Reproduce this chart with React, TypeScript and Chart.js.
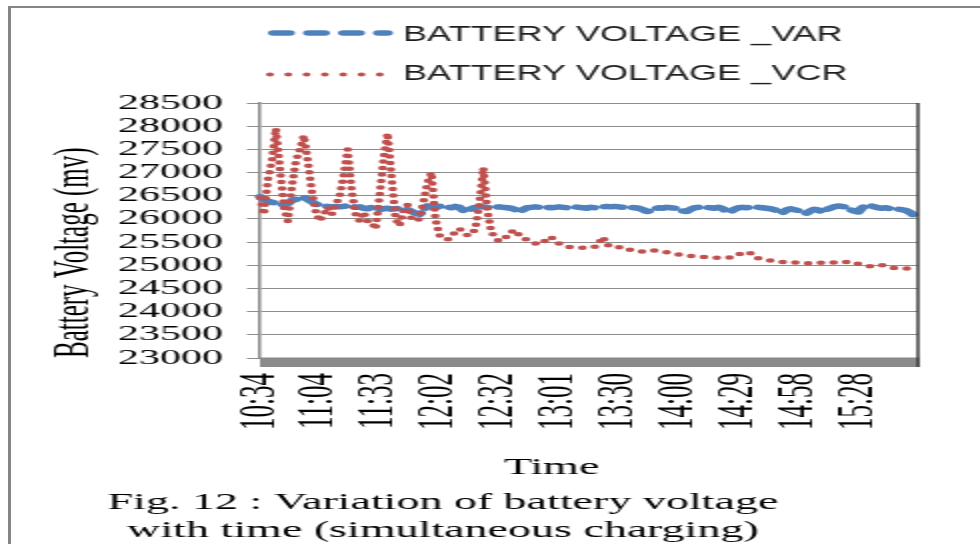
import React, { useEffect, useRef } from "react";
import { Chart, registerables } from "chart.js";

Chart.register(...registerables);

// ---------- data ----------
const tickLabels = ["10:34", "11:04", "11:33", "12:02", "12:32", "13:01", "13:30", "14:00", "14:29", "14:58", "15:28"];
const POINTS_PER_TICK = 15;

const varValues = [
  26480, 26420, 26380, 26360, 26330, 26320, 26300, 26330, 26400, 26420,
  26440, 26470, 26420, 26370, 26320, 26300, 26280, 26270, 26260, 26270,
  26260, 26270, 26290, 26280, 26250, 26260, 26230, 26220, 26250, 26240,
  26200, 26220, 26230, 26210, 26220, 26230, 26210, 26200, 26160, 26120,
  26100, 26200, 26280, 26260, 26250, 26270, 26280, 26260, 26240, 26270,
  26250, 26180, 26160, 26220, 26250, 26260,
  26260, 26250, 26240, 26250, 26260, 26250, 26240, 26230, 26200, 26150,
  26200, 26240, 26250, 26260, 26250, 26260, 26250, 26240, 26250, 26260,
  26250, 26240, 26250, 26260, 26250, 26240, 26230, 26250, 26240, 26250,
  26260, 26270, 26260, 26270, 26260, 26250, 26260, 26250, 26240, 26230,
  26200, 26160, 26170, 26220, 26240, 26230, 26250, 26240, 26230, 26200,
  26170, 26160, 26210, 26240, 26250, 26260, 26250, 26240, 26230, 26250,
  26220, 26160, 26150, 26210, 26240, 26250, 26240, 26250, 26260, 26250,
  26240, 26230, 26220, 26200, 26150, 26130, 26190, 26220, 26200, 26180,
  26150, 26120, 26170, 26210, 26190, 26150, 26200, 26230, 26260, 26280,
  26270, 26250, 26200, 26170, 26150, 26240, 26290, 26290, 26260, 26240,
  26230, 26240, 26220, 26230, 26210, 26200, 26180, 26140, 26080, 26020,
];

const vcrValues = [
  26450, 26100, 26850, 27250, 27950, 27100, 26250, 25950, 26700, 27250,
  27500, 27800, 27250, 26600, 26150, 25950, 26100, 26250, 26100, 26300,
  26500, 26950, 27500, 26600, 26100, 25950, 26150, 25950, 25950, 25780,
  26500, 27300, 27850, 26900, 26000, 25850, 26200, 26300, 26000, 25950,
  26000, 26370, 26780, 27000, 26000, 25650, 25580, 25550, 25620, 25720,
  25790, 25720, 25650, 25650, 25790, 26300, 27100, 26200,
  25720, 25590, 25520, 25580, 25620, 25720, 25760, 25650, 25580, 25550,
  25500, 25470, 25450, 25480, 25580, 25610, 25520, 25470, 25440, 25400,
  25390, 25380, 25380, 25380, 25370, 25380, 25400, 25480, 25610, 25450,
  25390, 25380, 25390, 25400, 25360, 25330, 25330, 25320, 25290, 25290,
  25300, 25320, 25310, 25300, 25280, 25260, 25240, 25230, 25230, 25220,
  25200, 25190, 25180, 25180, 25170, 25170, 25160, 25160, 25170, 25160,
  25170, 25180, 25230, 25270, 25290, 25260, 25180, 25150, 25130, 25120,
  25100, 25080, 25070, 25070, 25060, 25070, 25060, 25050, 25050, 25040,
  25050, 25060, 25060, 25050, 25060, 25050, 25060, 25070, 25080, 25070,
  25080, 25060, 25030, 25010, 24990, 24980, 24970, 24980, 25000, 24990,
  24960, 24940, 24940, 24940, 24930, 24920, 24900, 24890,
];

const categories = varValues.map((_, i) => i);
const seriesNames = ["BATTERY VOLTAGE _VAR", "BATTERY VOLTAGE _VCR"];
const seriesColors = ["#4F81BD", "#C0504D"];
const yTitle = "Battery Voltage (mv)";
const xTitle = "Time";
const captionLines = ["Fig. 12 : Variation of battery voltage", "with time (simultaneous charging)"];

// the reference picture is stretched horizontally
const STRETCH = 2;
const CANVAS_W = 980 / STRETCH;

const decorPlugin = {
  id: "decor",
  afterDraw(chart: any) {
    const { ctx, chartArea: a } = chart;
    ctx.save();
    // grey floor under the plot
    ctx.fillStyle = "#8a8a8a";
    ctx.fillRect(a.left, a.bottom - 0.5, a.right - a.left + 0.75, 9.5);
    // right border of plot
    ctx.strokeStyle = "#3c3c3c";
    ctx.lineWidth = 1.5;
    ctx.beginPath();
    ctx.moveTo(a.right, a.top);
    ctx.lineTo(a.right, a.bottom + 9);
    ctx.stroke();

    // legend
    const ds = chart.data.datasets;
    ctx.lineCap = "round";
    ctx.strokeStyle = ds[0].borderColor;
    ctx.lineWidth = 5.5;
    ctx.setLineDash([8, 9.5]);
    ctx.beginPath();
    ctx.moveTo(136.75, 33);
    ctx.lineTo(193.75, 33);
    ctx.stroke();
    ctx.strokeStyle = ds[1].borderColor;
    ctx.lineWidth = 4;
    ctx.setLineDash([0, 9.15]);
    ctx.beginPath();
    ctx.moveTo(135, 74.5);
    ctx.lineTo(190.5, 74.5);
    ctx.stroke();
    ctx.setLineDash([]);

    ctx.fillStyle = "#1e1e1e";
    ctx.font = "22px 'Liberation Sans'";
    ctx.textAlign = "left";
    ctx.textBaseline = "alphabetic";
    const legendY = [41, 80];
    ds.forEach((d: any, i: number) => {
      ctx.save();
      ctx.translate(201.5, legendY[i]);
      ctx.scale(0.82, 1);
      ctx.fillText(d.label, 0, 0);
      ctx.restore();
    });

    // x axis title and caption
    ctx.fillStyle = "#000";
    ctx.font = "23px 'Liberation Serif'";
    ctx.textAlign = "center";
    ctx.fillText(xTitle, 275.75, 474);
    ctx.fillText(captionLines[0], 221.5, 509);
    ctx.fillText(captionLines[1], 221.5, 537);
    ctx.restore();
  },
};

export default function App() {
  const canvasRef = useRef<HTMLCanvasElement | null>(null);

  useEffect(() => {
    if (!canvasRef.current) return;
    const chart = new Chart(canvasRef.current, {
      type: "line",
      data: {
        labels: categories,
        datasets: [
          {
            label: seriesNames[0],
            data: varValues,
            borderColor: seriesColors[0],
            backgroundColor: seriesColors[0],
            borderWidth: 5.5,
            borderDash: [9, 5.5],
            borderCapStyle: "round",
            borderJoinStyle: "round",
            pointRadius: 0,
            tension: 0,
            fill: false,
            order: 1,
          },
          {
            label: seriesNames[1],
            data: vcrValues,
            borderColor: seriesColors[1],
            backgroundColor: seriesColors[1],
            borderWidth: 4.5,
            borderDash: [0, 6.5],
            borderCapStyle: "round",
            borderJoinStyle: "round",
            pointRadius: 0,
            tension: 0,
            fill: false,
            order: 0,
          },
        ],
      },
      options: {
        animation: false,
        responsive: true,
        maintainAspectRatio: false,
        devicePixelRatio: 1,
        events: [],
        layout: { padding: { top: 103, left: 20, right: 31, bottom: 106 } },
        plugins: {
          legend: { display: false },
          tooltip: { enabled: false },
          title: { display: false },
        },
        scales: {
          x: {
            type: "category",
            offset: false,
            grid: { display: false, drawTicks: false },
            border: { display: false },
            ticks: {
              autoSkip: false,
              minRotation: 90,
              maxRotation: 90,
              padding: 15,
              color: "#000",
              font: { family: "'Liberation Serif'", size: 25 },
              callback: (_v: any, i: number) =>
                i % POINTS_PER_TICK === 0 ? tickLabels[i / POINTS_PER_TICK] ?? "" : "",
            },
            afterFit: (s: any) => {
              s.height = 80;
              s.paddingLeft = 0;
              s.paddingRight = 0;
            },
          },
          y: {
            min: 23000,
            max: 28500,
            ticks: {
              stepSize: 500,
              maxTicksLimit: 20,
              autoSkip: false,
              padding: 12,
              color: "#000",
              font: { family: "'Liberation Serif'", size: 21 },
              callback: (v: any) => String(v),
            },
            grid: { color: "#8c8c8c", lineWidth: 1, drawTicks: true, tickLength: 6.5 },
            border: { color: "#8a8a8a", width: 1.5 },
            title: {
              display: true,
              text: yTitle,
              align: "start",
              color: "#000",
              font: { family: "'Liberation Serif'", size: 25 },
              padding: { top: 2.5, bottom: 4 },
            },
            afterFit: (s: any) => {
              s.width = 110;
            },
          },
        },
      },
      plugins: [decorPlugin],
    });
    return () => chart.destroy();
  }, []);

  return (
    <>
      <div
        style={{
          position: "fixed",
          left: 8,
          top: 6,
          width: 1000,
          height: 600,
          borderLeft: "3px solid #858585",
          borderTop: "2px solid #858585",
          boxSizing: "border-box",
        }}
      />
      <div
        style={{
          position: "fixed",
          left: 0,
          top: 0,
          width: CANVAS_W,
          height: 544,
          transform: `scaleX(${STRETCH})`,
          transformOrigin: "0 0",
        }}
      >
        <canvas ref={canvasRef} />
      </div>
    </>
  );
}
